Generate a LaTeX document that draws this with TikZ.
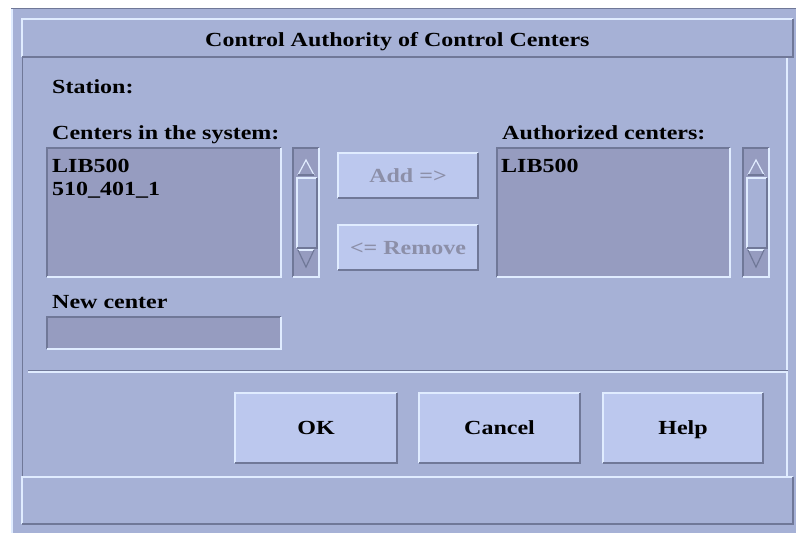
\documentclass[tikz,border=0pt]{standalone}
\usepackage{fontspec}
\setmainfont{Liberation Serif}[FakeStretch=1.2]
\usetikzlibrary{positioning}
\definecolor{dlgbg}{RGB}{166,177,214}
\definecolor{btnface}{RGB}{188,200,238}
\definecolor{listface}{RGB}{150,156,192}
\definecolor{lightedge}{RGB}{224,236,255}
\definecolor{darkedge}{RGB}{112,120,152}
\definecolor{greytext}{RGB}{140,143,168}

\tikzset{
  lbl/.style={font=\bfseries\fontsize{20}{24}\selectfont, inner sep=0pt, anchor=base west},
  btn/.style={fill=btnface, minimum width=162pt, minimum height=70pt, inner sep=0pt,
    text height=13pt, text depth=0pt, font=\bfseries\fontsize{20}{24}\selectfont},
  smallbtn/.style={btn, minimum width=140pt, minimum height=45pt, text=greytext},
  well/.style={fill=listface, anchor=north west, inner sep=0pt},
  trough/.style={well, minimum width=26pt, minimum height=129pt},
  lit/.style={lightedge, line width=2pt},
  dim/.style={darkedge, line width=2pt}
}
\newcommand{\raised}[1]{%
  \draw[lit] (#1.south west) |- (#1.north east);
  \draw[dim] (#1.south west) -| (#1.north east);}
\newcommand{\sunken}[1]{%
  \draw[dim] (#1.south west) |- (#1.north east);
  \draw[lit] (#1.south west) -| (#1.north east);}

\begin{document}
\begin{tikzpicture}[x=1pt, y=-1pt]
  \useasboundingbox (0,0) rectangle (796,533);
  \fill[white] (0,0) rectangle (796,533);

  % dialog frame
  \fill[dlgbg] (11,8) rectangle (796,533);
  \draw[darkedge, line width=1.5pt] (11,8.5) -- (796,8.5);
  \draw[lightedge, line width=2pt] (12,9) -- (12,533);
  \draw[darkedge] (22,57) -- (22,476);
  \draw[lightedge, line width=1.5pt] (787,57) -- (787,476);

  % title bar
  \node[fill=dlgbg, anchor=north west, minimum width=771pt, minimum height=38pt,
    inner sep=0pt] (bar) at (22,19) {};
  \raised{bar}
  \node[lbl] (title) at (205,46) {Control Authority of Control Centers};

  % labels
  \node[lbl] (station) at (52,93) {Station:};
  \node[lbl] (centers) at (52,139) {Centers in the system:};
  \node[lbl] (authorized) at (502,139) {Authorized centers:};
  \node[lbl] (newlbl) at (52,308) {New center};

  % left list and scrollbar
  \node[well, minimum width=234pt, minimum height=129pt] (leftlist) at (47,148) {};
  \sunken{leftlist}
  \node[lbl] (itemA) at (52,172) {LIB500};
  \node[lbl] (itemB) at (52,195) {510\_401\_1};
  \node[trough] (leftbar) at (293,148) {};
  \sunken{leftbar}
  \node[fill=dlgbg, anchor=north west, minimum width=20pt, minimum height=70pt,
    inner sep=0pt] (leftknob) at (297,178) {};
  \raised{leftknob}
  \draw[lightedge, line width=1.2pt] (298,175) -- (306,160) -- (314,175);
  \draw[darkedge, line width=1.2pt] (298,175) -- (314,175);
  \draw[lightedge, line width=1.2pt] (298,250) -- (314,250);
  \draw[darkedge, line width=1.2pt] (298,250) -- (306,267) -- (314,250);

  % transfer buttons
  \node[smallbtn] (add) at (408,175.5) {Add =>};
  \raised{add}
  \node[smallbtn] (remove) at (408,247.5) {<= Remove};
  \raised{remove}

  % right list and scrollbar
  \node[well, minimum width=233pt, minimum height=129pt] (rightlist) at (497,148) {};
  \sunken{rightlist}
  \node[lbl] (itemC) at (501,172) {LIB500};
  \node[trough] (rightbar) at (743,148) {};
  \sunken{rightbar}
  \node[fill=dlgbg, anchor=north west, minimum width=20pt, minimum height=70pt,
    inner sep=0pt] (rightknob) at (747,178) {};
  \raised{rightknob}
  \draw[lightedge, line width=1.2pt] (748,175) -- (756,160) -- (764,175);
  \draw[darkedge, line width=1.2pt] (748,175) -- (764,175);
  \draw[lightedge, line width=1.2pt] (748,250) -- (764,250);
  \draw[darkedge, line width=1.2pt] (748,250) -- (756,267) -- (764,250);

  % new center field
  \node[well, minimum width=234pt, minimum height=32pt] (newfield) at (47,317) {};
  \sunken{newfield}

  % separator
  \draw[darkedge, line width=1pt] (28,370) -- (788,370);
  \draw[lightedge, line width=1.5pt] (28,372) -- (788,372);

  % dialog buttons
  \node[btn] (ok) at (316,428) {OK};
  \raised{ok}
  \node[btn, minimum width=161pt] (cancel) at (499.5,428) {Cancel};
  \raised{cancel}
  \node[btn, minimum width=160pt] (help) at (683,428) {Help};
  \raised{help}

  % status area
  \node[fill=dlgbg, anchor=north west, minimum width=771pt, minimum height=47pt,
    inner sep=0pt] (status) at (22,477) {};
  \raised{status}
\end{tikzpicture}
\end{document}
